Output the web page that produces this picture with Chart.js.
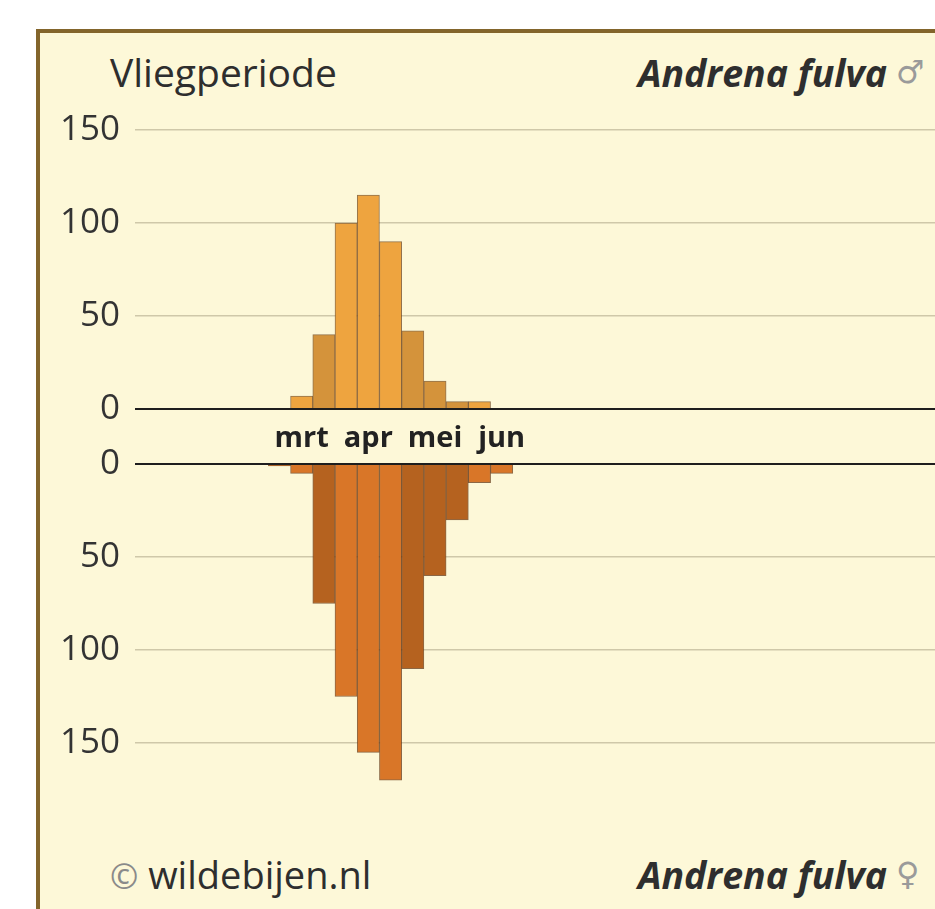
<!DOCTYPE html>
<html>
<head>
<meta charset="utf-8">
<script src="https://cdn.jsdelivr.net/npm/chart.js@4.4.1/dist/chart.umd.min.js"></script>
<style>
  html, body { margin: 0; padding: 0; background: #ffffff; }
  body { width: 935px; height: 909px; position: relative; overflow: hidden; }
  #frame {
    position: absolute; left: 36px; top: 29px; width: 940px; height: 900px;
    background: #fdf8d8; border: 4px solid #83652b; border-right: none; border-bottom: none;
  }
  canvas { position: absolute; left: 0; }
  #c1 { top: 100px; z-index: 2; }
  #c2 { top: 440px; z-index: 1; }
  .t { position: absolute; white-space: nowrap; line-height: 1; color: #2e2e2e; font-family: "Open Sans", sans-serif; }
  .sym { color: #9a9a9a; font-family: "DejaVu Sans", sans-serif; font-weight: normal; font-style: normal; }
</style>
</head>
<body>
<div id="frame"></div>
<canvas id="c1" width="935" height="370"></canvas>
<canvas id="c2" width="935" height="440"></canvas>
<div class="t" id="title" style="left:110px; top:52px; font-size:39px;">Vliegperiode</div>
<div class="t" id="spM" style="right:48px; top:54px; font-size:37.5px; font-weight:bold; font-style:italic;">Andrena fulva</div>
<div class="t sym" style="left:896px; top:56px; font-size:32px;">♂</div>
<div class="t" id="copy" style="left:110px; top:855px; font-size:38px;"><span style="color:#8a8a8a; font-size:34px;">©</span> wildebijen.nl</div>
<div class="t" id="spF" style="right:48px; top:856px; font-size:37.5px; font-weight:bold; font-style:italic;">Andrena fulva</div>
<div class="t sym" style="left:896px; top:858px; font-size:32px;">♀</div>
<script>
// ---- data ----
const months = ['jan','feb','mrt','apr','mei','jun','jul','aug','sep','okt','nov','dec'];
const shownMonths = ['mrt','apr','mei','jun'];
const dekads = [];
months.forEach(m => { dekads.push(m + ' I', m + ' II', m + ' III'); });
const males = [0,0,0, 0,0,0, 0,7,40, 100,115,90, 42,15,4, 4,0,0, 0,0,0, 0,0,0, 0,0,0, 0,0,0, 0,0,0, 0,0,0];
const females = [0,0,0, 0,0,0, 1,5,75, 125,155,170, 110,60,30, 10,5,0, 0,0,0, 0,0,0, 0,0,0, 0,0,0, 0,0,0, 0,0,0];
const maleTicks = [0, 50, 100, 150];
const femaleTicks = [0, 50, 100, 150];

// ---- styles ----
const darkBars = new Set([6, 8, 12, 13, 14]);
const maleLight = '#eea43f', maleDark = '#d4933b';
const femLight = '#d97628', femDark = '#b5621f';
const gridCol = '#cfc8a9';
const tickFont = { family: 'Open Sans', size: 35 };
const textCol = '#333333';

function yScale(ticksArr, max, reverse) {
  return {
    min: 0, max: max, reverse: reverse,
    afterFit: s => { s.width = 135; s.paddingTop = 0; s.paddingBottom = 0; },
    afterBuildTicks: s => { s.ticks = ticksArr.map(v => ({ value: v })); },
    ticks: { font: tickFont, color: textCol, padding: 15 },
    grid: {
      drawTicks: false,
      color: c => c.tick.value === 0 ? '#1e1e1e' : gridCol,
      lineWidth: c => c.tick.value === 0 ? 2 : 1.6
    },
    border: { display: false }
  };
}

const common = {
  responsive: false, animation: false, devicePixelRatio: 1,
  plugins: { legend: { display: false }, tooltip: { enabled: false } }
};

new Chart(document.getElementById('c1'), {
  type: 'bar',
  data: { labels: dekads, datasets: [{
    data: males,
    backgroundColor: c => darkBars.has(c.dataIndex) ? maleDark : maleLight,
    borderColor: 'rgba(110,70,30,0.75)', borderWidth: 1,
    barPercentage: 1, categoryPercentage: 1
  }]},
  options: Object.assign({}, common, {
    layout: { padding: { top: 30, left: 0, right: 0, bottom: 0 } },
    scales: {
      x: {
        afterFit: s => { s.height = 61; s.paddingLeft = 0; s.paddingRight = 0; },
        grid: { display: false }, border: { display: false },
        ticks: {
          autoSkip: false, maxRotation: 0, minRotation: 0, padding: 4,
          font: { family: 'Open Sans', size: 29, weight: 'bold' }, color: '#222',
          callback: (v, i) => {
            const m = dekads[i].split(' ');
            return (m[1] === 'II' && shownMonths.includes(m[0])) ? m[0] : '';
          }
        }
      },
      y: yScale(maleTicks, 150, false)
    }
  })
});

new Chart(document.getElementById('c2'), {
  type: 'bar',
  data: { labels: dekads, datasets: [{
    data: females,
    backgroundColor: c => darkBars.has(c.dataIndex) ? femDark : femLight,
    borderColor: 'rgba(100,55,20,0.75)', borderWidth: 1,
    barPercentage: 1, categoryPercentage: 1
  }]},
  options: Object.assign({}, common, {
    layout: { padding: { top: 24, left: 0, right: 0, bottom: 44 } },
    scales: {
      x: { display: false },
      y: yScale(femaleTicks, 200, true)
    }
  })
});
</script>
</body>
</html>
